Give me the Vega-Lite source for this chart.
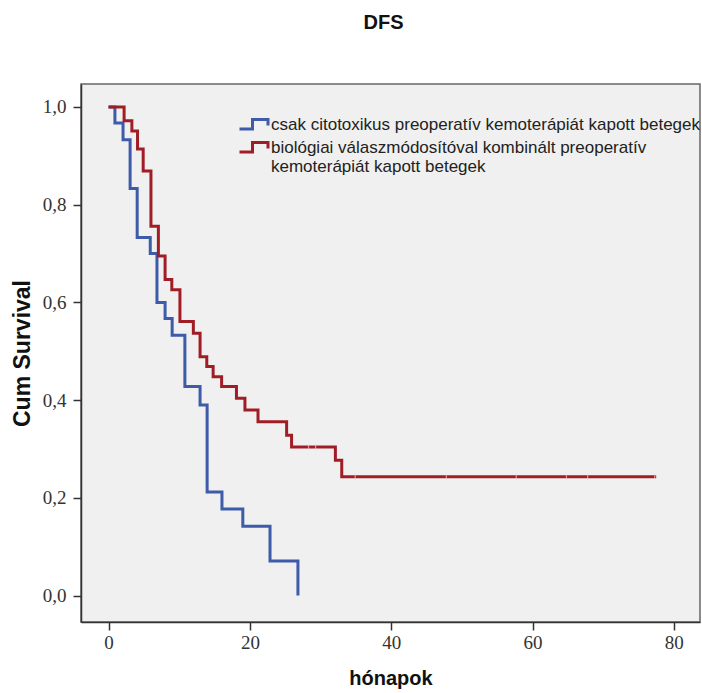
{
  "$schema": "https://vega.github.io/schema/vega-lite/v6.json",
  "width": 619,
  "height": 538,
  "autosize": {"type": "none"},
  "padding": {"left": 81, "top": 84, "right": 2, "bottom": 71},
  "background": "white",
  "title": {"text": "DFS", "font": "Liberation Sans", "fontSize": 20, "fontWeight": "bold", "color": "#111111", "anchor": "middle", "frame": "group", "offset": 51, "dx": -7},
  "config": {
    "view": {"fill": "#F0F0F0", "stroke": "#666666", "strokeWidth": 1.5},
    "axis": {"grid": false, "domainColor": "#333333", "domainWidth": 1.5, "tickColor": "#333333", "tickWidth": 1.5, "tickSize": 8, "labelFont": "Liberation Sans Narrow", "labelFontSize": 19, "labelColor": "#333333", "titleFont": "Liberation Sans", "titleFontWeight": "bold", "titleColor": "#111111"}
  },
  "datasets": {
    "curves": [
      {"group": "csak", "t": 0, "s": 1.0},
      {"group": "csak", "t": 0.9, "s": 0.967},
      {"group": "csak", "t": 2.05, "s": 0.933},
      {"group": "csak", "t": 3.05, "s": 0.833},
      {"group": "csak", "t": 4.05, "s": 0.733},
      {"group": "csak", "t": 5.9, "s": 0.7},
      {"group": "csak", "t": 6.85, "s": 0.6},
      {"group": "csak", "t": 8.0, "s": 0.567},
      {"group": "csak", "t": 9.0, "s": 0.533},
      {"group": "csak", "t": 10.8, "s": 0.428},
      {"group": "csak", "t": 12.95, "s": 0.39},
      {"group": "csak", "t": 13.95, "s": 0.212},
      {"group": "csak", "t": 16.05, "s": 0.177},
      {"group": "csak", "t": 19.0, "s": 0.142},
      {"group": "csak", "t": 22.85, "s": 0.071},
      {"group": "csak", "t": 26.8, "s": 0.0},
      {"group": "bio", "t": 0, "s": 1.0},
      {"group": "bio", "t": 2.2, "s": 0.972},
      {"group": "bio", "t": 3.3, "s": 0.951},
      {"group": "bio", "t": 4.1, "s": 0.914},
      {"group": "bio", "t": 4.9, "s": 0.869},
      {"group": "bio", "t": 6.0, "s": 0.756},
      {"group": "bio", "t": 7.05, "s": 0.695},
      {"group": "bio", "t": 8.0, "s": 0.647},
      {"group": "bio", "t": 8.95, "s": 0.626},
      {"group": "bio", "t": 10.1, "s": 0.561},
      {"group": "bio", "t": 12.0, "s": 0.537},
      {"group": "bio", "t": 12.95, "s": 0.489},
      {"group": "bio", "t": 13.9, "s": 0.469},
      {"group": "bio", "t": 14.8, "s": 0.448},
      {"group": "bio", "t": 16.0, "s": 0.428},
      {"group": "bio", "t": 18.1, "s": 0.404},
      {"group": "bio", "t": 19.3, "s": 0.38},
      {"group": "bio", "t": 21.15, "s": 0.356},
      {"group": "bio", "t": 25.2, "s": 0.328},
      {"group": "bio", "t": 25.9, "s": 0.304},
      {"group": "bio", "t": 32.1, "s": 0.277},
      {"group": "bio", "t": 33.0, "s": 0.243},
      {"group": "bio", "t": 77.5, "s": 0.243}
    ],
    "censored": [
      {"t": 28.3, "s": 0.304},
      {"t": 29.3, "s": 0.304},
      {"t": 34.9, "s": 0.243},
      {"t": 47.8, "s": 0.243},
      {"t": 57.7, "s": 0.243},
      {"t": 64.8, "s": 0.243},
      {"t": 67.8, "s": 0.243},
      {"t": 77.3, "s": 0.243}
    ]
  },
  "layer": [
    {
      "data": {"name": "curves"},
      "mark": {"type": "line", "interpolate": "step-after", "strokeWidth": 3},
      "encoding": {
        "x": {"field": "t", "type": "quantitative", "scale": {"domain": [-3.9, 83.7], "nice": false, "zero": false},
              "axis": {"values": [0, 20, 40, 60, 80], "title": "hónapok", "titleFontSize": 20, "titlePadding": 16, "labelPadding": 3}},
        "y": {"field": "s", "type": "quantitative", "scale": {"domain": [-0.054, 1.047], "nice": false, "zero": false},
              "axis": {"values": [0, 0.2, 0.4, 0.6, 0.8, 1.0], "labelExpr": "replace(format(datum.value, '.1f'), '.', ',')", "title": "Cum Survival", "titleFontSize": 23, "titlePadding": 8, "labelPadding": 7}},
        "color": {"field": "group", "type": "nominal",
                  "scale": {"domain": ["csak", "bio"], "range": ["#3E5BAA", "#A11D26"]},
                  "legend": {"title": null, "orient": "none", "legendX": 162, "legendY": 29, "padding": 0,
                             "symbolType": "M-1.5,0.45H-0.2V-0.5H1.35V0.1", "symbolSize": 400, "symbolStrokeWidth": 3, "symbolFillColor": "transparent",
                             "labelFont": "Liberation Sans", "labelFontSize": 17, "labelLineHeight": 15, "labelColor": "#222222", "labelOffset": 5, "labelLimit": 0, "rowPadding": 1,
                             "labelExpr": "datum.label == 'csak' ? 'csak citotoxikus preoperatív kemoterápiát kapott betegek' : ['biológiai válaszmódosítóval kombinált preoperatív', 'kemoterápiát kapott betegek']"}}
      }
    },
    {
      "data": {"name": "censored"},
      "mark": {"type": "point", "shape": "M0,-1V1", "size": 25, "stroke": "#F3C9C9", "strokeWidth": 1.2, "filled": false},
      "encoding": {
        "x": {"field": "t", "type": "quantitative"},
        "y": {"field": "s", "type": "quantitative"}
      }
    },
    {
      "mark": {"type": "text", "align": "left", "baseline": "middle", "font": "Liberation Sans", "fontSize": 22, "color": "#222222"},
      "encoding": {
        "x": {"datum": 63.6, "type": "quantitative"},
        "y": {"datum": 0.032, "type": "quantitative"},
        "text": {"value": "p=0,006"}
      }
    }
  ]
}
